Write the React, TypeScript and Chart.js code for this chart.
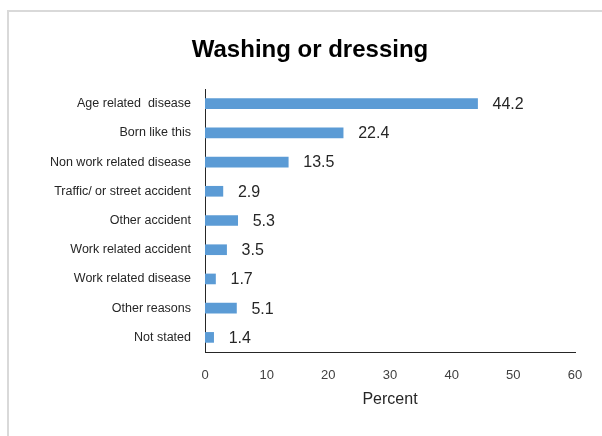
import React, { useEffect, useRef } from "react";
import { Chart, registerables } from "chart.js";

Chart.register(...registerables);

const categories = [
  "Age related  disease",
  "Born like this",
  "Non work related disease",
  "Traffic/ or street accident",
  "Other accident",
  "Work related accident",
  "Work related disease",
  "Other reasons",
  "Not stated",
];
const values = [44.2, 22.4, 13.5, 2.9, 5.3, 3.5, 1.7, 5.1, 1.4];
const xTicks = [0, 10, 20, 30, 40, 50, 60];
const titleText = "Washing or dressing";
const xTitle = "Percent";

const FONT = "'Liberation Sans', Arial, sans-serif";

const decorPlugin = {
  id: "decor",
  beforeDraw(chart: any) {
    const ctx = chart.ctx;
    ctx.save();
    ctx.fillStyle = "#ffffff";
    ctx.fillRect(0, 0, chart.width, chart.height);
    ctx.fillStyle = "#d9d9d9";
    ctx.fillRect(7, 10, chart.width - 7, 2);
    ctx.fillRect(7, 10, 2, chart.height - 10);
    ctx.fillStyle = "#000000";
    ctx.font = "bold 24px " + FONT;
    ctx.textAlign = "center";
    ctx.textBaseline = "alphabetic";
    ctx.fillText(titleText, 310, 57);
    ctx.restore();
  },
  afterDatasetsDraw(chart: any) {
    const ctx = chart.ctx;
    const meta = chart.getDatasetMeta(0);
    ctx.save();
    ctx.fillStyle = "#262626";
    ctx.font = "16px " + FONT;
    ctx.textAlign = "left";
    ctx.textBaseline = "middle";
    meta.data.forEach((bar: any, i: number) => {
      ctx.fillText(values[i].toFixed(1), bar.x + 15, bar.y + 1);
    });
    ctx.restore();
  },
};

export default function App() {
  const ref = useRef<HTMLCanvasElement>(null);
  useEffect(() => {
    const chart = new Chart(ref.current!, {
      type: "bar",
      data: {
        labels: categories,
        datasets: [
          {
            data: values,
            backgroundColor: "#5B9BD5",
            barThickness: 10,
          },
        ],
      },
      options: {
        indexAxis: "y",
        animation: false,
        responsive: false,
        devicePixelRatio: 1,
        layout: { padding: { top: 89, right: 27, left: 0, bottom: 0 } },
        plugins: { legend: { display: false }, tooltip: { enabled: false } },
        scales: {
          x: {
            min: 0,
            max: 60,
            afterBuildTicks: (scale: any) => {
              scale.ticks = xTicks.map((v) => ({ value: v }));
            },
            afterFit: (scale: any) => {
              scale.height = 84;
            },
            grid: { display: false, drawTicks: false },
            border: { display: true, color: "#262626", width: 1 },
            ticks: {
              padding: 16,
              color: "#404040",
              font: { family: FONT, size: 13 },
            },
            title: {
              display: true,
              text: xTitle,
              color: "#262626",
              font: { family: FONT, size: 16 },
              padding: { top: 4, bottom: 27 },
            },
          },
          y: {
            afterFit: (scale: any) => {
              scale.width = 205;
            },
            grid: { display: false, drawTicks: false },
            border: { display: true, color: "#262626", width: 1 },
            ticks: {
              autoSkip: false,
              padding: 14,
              color: "#262626",
              font: { family: FONT, size: 12.5 },
            },
          },
        },
      },
      plugins: [decorPlugin],
    } as any);
    return () => chart.destroy();
  }, []);
  return (
    <div style={{ position: "fixed", left: 0, top: 0, width: 602, height: 436 }}>
      <canvas ref={ref} width={602} height={436} />
    </div>
  );
}
